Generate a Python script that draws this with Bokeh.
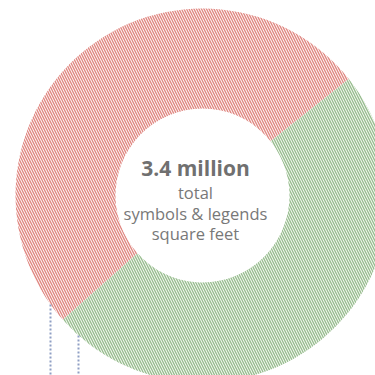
import math
from bokeh.plotting import figure
from bokeh.models import Range1d, ColumnDataSource
from bokeh.core.properties import value
from bokeh.embed import file_html
from bokeh.resources import INLINE

# ---- data ----
categories = ["Red share", "Green share"]
values = [1.73, 1.67]          # million sq ft
total_label = "3.4 million"
sub_lines = ["total", "symbols & legends", "square feet"]
leader_x = [50, 78]            # pixel x of the leader lines

# ---- style ----
cx, cy = 202, 180
r_in, r_out = 87, 187
start_deg = 38.5
fills = ["#fdf6f4", "#f3f9f1"]
hatches = ["#df8580", "#97bb8e"]

tot = sum(values)
starts, ends = [], []
a = math.radians(start_deg)
for v in values:
    starts.append(a)
    a += v / tot * 2 * math.pi
    ends.append(a)

src = ColumnDataSource(dict(cat=categories, val=values, s=starts, e=ends,
                            fill=fills, hatch=hatches,
                            x=[cx] * 2, y=[cy] * 2))

p = figure(width=375, height=375, x_range=Range1d(0, 375), y_range=Range1d(0, 375),
           output_backend="svg", toolbar_location=None, min_border=0)
p.axis.visible = False
p.grid.visible = False
p.outline_line_color = None
p.background_fill_color = "white"
p.border_fill_color = "white"

p.annular_wedge(x="x", y="y", inner_radius=r_in, outer_radius=r_out,
                start_angle="s", end_angle="e", source=src,
                fill_color="fill", line_color=None,
                hatch_pattern="\\", hatch_color="hatch", hatch_scale=5.0, hatch_weight=1.3)

# leader lines from outer edge downward
xs, ys = [], []
for lx in leader_x:
    dx = lx - cx
    ytop = cy - math.sqrt(r_out ** 2 - dx ** 2)
    xs.append([lx, lx])
    ys.append([ytop, 0])
p.multi_line(xs=xs, ys=ys, line_color="#8f9fc4", line_width=2, line_dash="2 2")

tx = 195
p.text(x=[tx], y=[208], text=[total_label], text_font=value("Open Sans"),
       text_font_style="bold", text_font_size="21px", text_color="#707070",
       text_align="center", text_baseline="alphabetic")
p.text(x=[tx] * 3, y=[183, 162, 142], text=sub_lines, text_font=value("Open Sans"),
       text_font_size="16.5px", text_color="#787878",
       text_align="center", text_baseline="alphabetic")

open("out.html", "w").write(file_html(p, INLINE))
